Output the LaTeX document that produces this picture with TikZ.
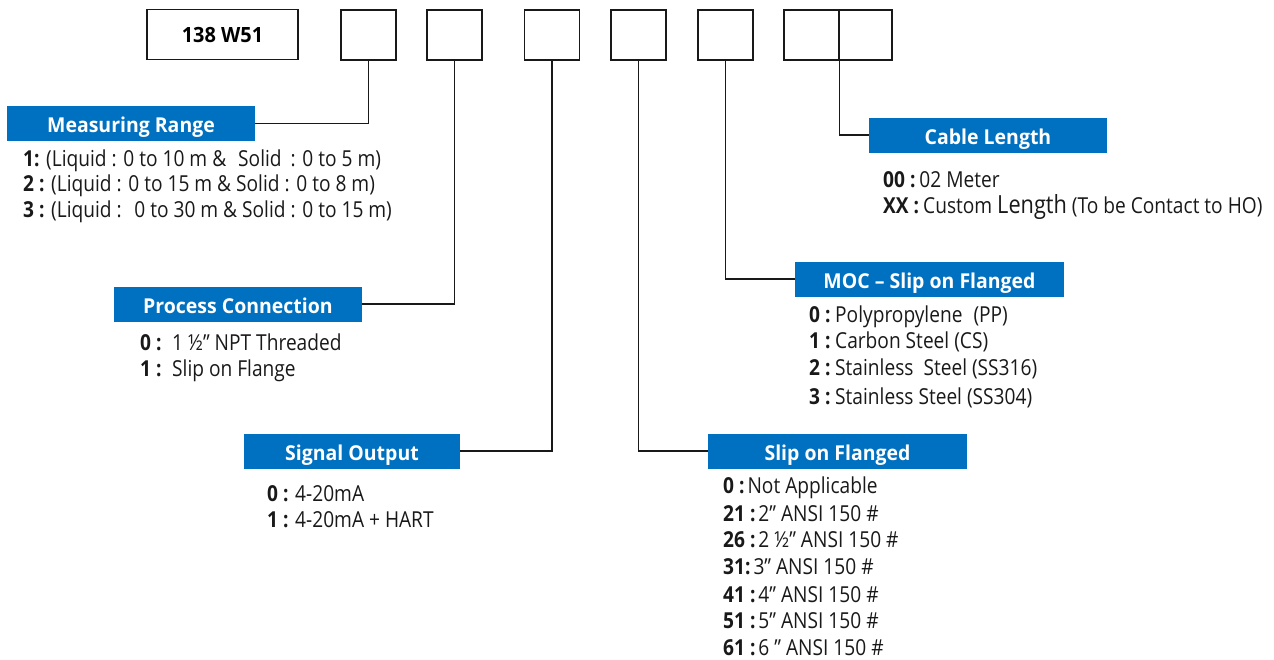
\documentclass[tikz,border=0pt]{standalone}
\usepackage{fontspec}
\setmainfont{Open Sans}[FakeStretch=0.87]
\newfontfamily\headfont{Open Sans}[FakeStretch=0.95]
\newlength{\du}
\setlength{\du}{1pt}
\definecolor{headblue}{rgb}{0.000000, 0.439216, 0.752941}
\definecolor{dialinecolor}{rgb}{0.100000, 0.100000, 0.100000}
\tikzset{
  codebox/.style={draw=dialinecolor, line width=1.5\du, minimum width=55\du,
    minimum height=50\du, inner sep=0pt},
  headbox/.style={fill=headblue, text=white, inner sep=0pt, minimum height=35\du,
    text height=18\du, text depth=0pt, font=\headfont\fontsize{20.5}{24}\selectfont\bfseries},
  optline/.style={anchor=base west, inner sep=0pt, text=dialinecolor,
    font=\fontsize{22}{25}\selectfont},
  leadline/.style={draw=dialinecolor, line width=1.2\du},
}
\newcommand{\optkey}[2]{\makebox[#1\du][l]{\textbf{#2}}}

\begin{document}
\begin{tikzpicture}[x=1\du, y=-1\du]
\useasboundingbox (0,0) rectangle (1274,659);
% order code boxes
\node[codebox, minimum width=151\du, font=\headfont\fontsize{21}{25}\selectfont\bfseries] (base) at (222.5,34.5) {138 W51};
\node[codebox] (mrange) at (368.5,35) {};
\node[codebox] (pconn) at (454.5,35) {};
\node[codebox] (sigout) at (552.0,35) {};
\node[codebox] (flange) at (638.5,35) {};
\node[codebox] (moc) at (725.5,35) {};
\node[codebox] (cablea) at (811.5,35) {};
\node[codebox, minimum width=53\du] (cableb) at (865.5,35) {};
% headers
\node[headbox, minimum width=248\du] (mrhead) at (131.0,123.5) {Measuring Range};
\node[headbox, minimum width=248\du] (pchead) at (238.0,304.0) {Process Connection};
\node[headbox, minimum width=216\du] (sohead) at (352.0,451.0) {Signal Output};
\node[headbox, minimum width=259\du] (sfhead) at (837.5,451.0) {Slip on Flanged};
\node[headbox, minimum width=269\du] (mochead) at (929.5,279.0) {MOC – Slip on Flanged};
\node[headbox, minimum width=238\du] (clhead) at (988.0,135.0) {Cable Length};
% leaders
\draw[leadline] (mrange.south) |- (mrhead.east);
\draw[leadline] (pconn.south) |- (pchead.east);
\draw[leadline] (sigout.south) |- (sohead.east);
\draw[leadline] (flange.south) |- (sfhead.west);
\draw[leadline] (moc.south) |- (mochead.west);
\draw[leadline] (cablea.south east) |- (clhead.west);
% measuring range
\node[optline] (mr1) at (23,166) {\textbf{1:} (Liquid : 0 to 10 m \&\hspace{12\du}Solid\hspace{4\du} : 0 to 5 m)};
\node[optline] (mr2) at (23,191) {\textbf{2 :} (Liquid : 0 to 15 m \& Solid : 0 to 8 m)};
\node[optline] (mr3) at (23,217) {\textbf{3 :} (Liquid :\hspace{6\du} 0 to 30 m \& Solid : 0 to 15 m)};
% process connection
\node[optline] (pc0) at (140,350) {\optkey{32}{0 :}1 ½” NPT Threaded};
\node[optline] (pc1) at (140,376) {\optkey{32}{1 :}Slip on Flange};
% signal output
\node[optline] (so0) at (267,501) {\optkey{28}{0 :}4-20mA};
\node[optline] (so1) at (267,527) {\optkey{28}{1 :}4-20mA + HART};
% slip on flanged
\node[optline] (sf0) at (723,493) {\textbf{0 :}\hspace{3\du}Not Applicable};
\node[optline] (sf21) at (723,521) {\textbf{21 :}\hspace{3\du}2” ANSI 150 \#};
\node[optline] (sf26) at (723,547) {\textbf{26 :}\hspace{3\du}2 ½” ANSI 150 \#};
\node[optline] (sf31) at (723,574) {\textbf{31:}\hspace{3\du}3” ANSI 150 \#};
\node[optline] (sf41) at (723,602) {\textbf{41 :}\hspace{3\du}4” ANSI 150 \#};
\node[optline] (sf51) at (723,628) {\textbf{51 :}\hspace{3\du}5” ANSI 150 \#};
\node[optline] (sf61) at (723,655) {\textbf{61 :}\hspace{3\du}6 ” ANSI 150 \#};
% moc
\node[optline] (moc0) at (809,322) {\optkey{26}{0 :}Polypropylene\hspace{6\du} (PP)};
\node[optline] (moc1) at (809,348) {\optkey{26}{1 :}Carbon Steel (CS)};
\node[optline] (moc2) at (809,375) {\optkey{26}{2 :}Stainless\hspace{5\du} Steel (SS316)};
\node[optline] (moc3) at (809,404) {\optkey{26}{3 :}Stainless Steel (SS304)};
% cable length
\node[optline] (cl0) at (883,187) {\textbf{00 :}\hspace{4\du}02 Meter};
\node[optline] (cl1) at (883,213) {\textbf{XX :}\hspace{4\du}Custom {\fontsize{25}{25}\selectfont Length} (To be Contact to HO)};
\end{tikzpicture}
\end{document}
